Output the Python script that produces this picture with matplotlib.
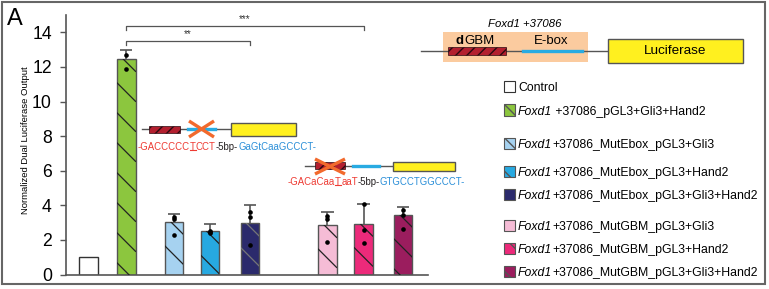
import numpy as np
import matplotlib
matplotlib.use('Agg')
import matplotlib.pyplot as plt
from matplotlib import font_manager
from matplotlib.patches import Rectangle
from matplotlib.lines import Line2D
from matplotlib.transforms import IdentityTransform

# ---- data ----
groups = ['Control',
          'Foxd1 +37086_pGL3+Gli3+Hand2',
          'Foxd1+37086_MutEbox_pGL3+Gli3',
          'Foxd1+37086_MutEbox_pGL3+Hand2',
          'Foxd1+37086_MutEbox_pGL3+Gli3+Hand2',
          'Foxd1+37086_MutGBM_pGL3+Gli3',
          'Foxd1+37086_MutGBM_pGL3+Hand2',
          'Foxd1+37086_MutGBM_pGL3+Gli3+Hand2']
means = [1.0, 12.45, 3.05, 2.5, 2.95, 2.85, 2.93, 3.43]
err_up = [0.0, 0.5, 0.45, 0.4, 1.05, 0.78, 1.17, 0.5]
points = [[], [12.7, 11.85], [3.2, 3.3, 2.3], [2.5, 2.45, 2.38],
          [3.6, 3.35, 1.7], [3.41, 3.18, 1.89], [4.1, 2.56, 1.83],
          [3.74, 3.43, 2.64]]
colors = ['white', '#8cc63e', '#a6d2f0', '#27a9e1', '#2b2a6c',
          '#f5bcd6', '#ec2a7a', '#9b1d5e']
hatched = [False, True, True, True, True, True, True, True]
y_ticks = [0, 2, 4, 6, 8, 10, 12, 14]
# significance brackets: (left bar, right bar, label)
sig = [(1, 4, '**'), (1, 6, '***')]

# bar centres (axis units) and legend rows (pixels from top)
xpos = [0.6, 1.6, 2.85, 3.8, 4.85, 6.9, 7.85, 8.9]
legend_rows = [86, 110, 143, 171, 194, 225, 248, 271]

W, H = 769, 289
try:
    font_manager.findfont('Liberation Sans Narrow', fallback_to_default=False)
    NARROW, k = 'Liberation Sans Narrow', 1.0
except ValueError:
    NARROW, k = 'Liberation Sans', 0.82
REG = 'Liberation Sans'
RED = '#ee3b33'
BLUE = '#2b8fd8'
GREY = '#555555'

fig = plt.figure(figsize=(W / 100, H / 100), dpi=100)


def fx(p):
    return p / W


def fy(p):
    return 1 - p / H


ax = fig.add_axes([fx(65.7), fy(274.5), fx(428 - 65.7), (274.5 - 15) / H])
ax.set_zorder(10)
ax.set_xlim(0, 9.55)
ax.set_ylim(0, 15)

# bars
bars = ax.bar(xpos, means, width=0.48, color=colors,
              edgecolor=['#333333'] + [GREY] * 7, linewidth=1.0, zorder=2)

# sparse diagonal hatching, clipped to each bar
for bar, h, c in zip(bars, hatched, colors):
    if not h:
        continue
    (x0, y0), (x1, y1) = ax.transData.transform(bar.get_bbox().get_points())
    lc = '#777777' if c == '#2b2a6c' else '#222222'
    for cc in np.arange(y1 + 6, y0, -30):
        ln = Line2D([x0, x1], [cc, cc - (x1 - x0)], color=lc, lw=0.9,
                    transform=IdentityTransform(), zorder=3)
        ax.add_artist(ln)
        ln.set_clip_path(bar)

# error bars (upper only)
for x, m, e in zip(xpos, means, err_up):
    if e <= 0:
        continue
    ax.vlines(x, m, m + e, color=GREY, lw=1.2, zorder=1)
    ax.hlines(m + e, x - 0.16, x + 0.16, color=GREY, lw=1.2, zorder=1)

# individual points
for x, p in zip(xpos, points):
    if p:
        ax.scatter([x] * len(p), p, s=11, color='black', zorder=4, linewidths=0)

# significance brackets
for (i, j, lab), yb in zip(sig, [13.48, 14.35]):
    ax.plot([xpos[i], xpos[i], xpos[j], xpos[j]], [yb - 0.22, yb, yb, yb - 0.22],
            color=GREY, lw=0.9, clip_on=False)
    ax.text((xpos[i] + xpos[j]) / 2, yb + 0.15, lab, ha='center', va='bottom',
            fontsize=7, family=REG, color='#333333')

for s in ['top', 'right']:
    ax.spines[s].set_visible(False)
for s in ['left', 'bottom']:
    ax.spines[s].set_color(GREY)
    ax.spines[s].set_linewidth(1.2)
ax.set_xticks([])
ax.set_yticks(y_ticks)
ax.set_yticklabels([str(t) for t in y_ticks], fontsize=15.5 * k, family=NARROW)
ax.tick_params(axis='y', length=4, width=1, color=GREY, pad=6)
ax.patch.set_alpha(0)

fig.text(fx(25), fy(140), 'Normalized Dual Luciferase Output', rotation=90,
         ha='center', va='center', fontsize=8.3 * k, family=NARROW)
fig.text(fx(7), fy(8), 'A', ha='left', va='top', fontsize=17, family=REG)


# ---- helpers ----
underlines = []


def rich_text(x, y, pieces, size, family):
    """pieces: (text, color, style, weight, underline); x, y pixel baseline"""
    prev = None
    for txt, col, sty, wt, ul in pieces:
        if prev is None:
            t = ax.annotate(txt, xy=(x, H - y), xycoords='figure pixels',
                            ha='left', va='baseline', annotation_clip=False)
        else:
            t = ax.annotate(txt, xy=(1, 0), xycoords=prev, ha='left',
                            va='bottom', annotation_clip=False)
        t.set(color=col, fontstyle=sty, fontweight=wt, fontsize=size,
              family=family)
        if ul:
            underlines.append(t)
        prev = t


def box(x0, y0, x1, y1, **kw):
    r = Rectangle((fx(x0), fy(y1)), fx(x1 - x0), (y1 - y0) / H,
                  transform=fig.transFigure, **kw)
    fig.add_artist(r)


def hline(x0, x1, y, **kw):
    fig.add_artist(Line2D([fx(x0), fx(x1)], [fy(y), fy(y)],
                          transform=fig.transFigure, **kw))


def cross(x0, y0, x1, y1):
    for a, b in [((x0, y0), (x1, y1)), ((x0, y1), (x1, y0))]:
        fig.add_artist(Line2D([fx(a[0]), fx(b[0])], [fy(a[1]), fy(b[1])],
                              transform=fig.transFigure, color='#f26a2d',
                              lw=2.4, solid_capstyle='butt', zorder=5))


# ---- construct diagram (top right) ----
rich_text(488, 27, [('Foxd1 +37086', 'black', 'italic', 'normal', False)],
          10 * k, NARROW)
box(443, 32, 588, 62, facecolor='#fbcb9f', edgecolor='none')
hline(421, 608, 51, color=GREY, lw=1)
box(448, 47, 506, 55, facecolor='#b31f2f', edgecolor='#2a0a10', hatch='///',
    lw=0.5, zorder=3)
hline(523, 582, 51, color='#29abe2', lw=2.4, zorder=3)
rich_text(456, 44, [('d', 'black', 'normal', 'bold', False),
                    ('GBM', 'black', 'normal', 'normal', False)], 9.5, REG)
rich_text(534, 44, [('E-box', 'black', 'normal', 'normal', False)], 9.5, REG)
box(608, 39, 743, 63, facecolor='#fff01f', edgecolor=GREY, lw=1, zorder=3)
fig.text(fx(675.5), fy(51), 'Luciferase', ha='center', va='center',
         fontsize=9.7, family=REG, zorder=4)

# ---- mutant E-box diagram ----
hline(142, 231, 129, color=GREY, lw=1)
box(149, 126, 180, 133, facecolor='#b31f2f', edgecolor='#2a0a10', hatch='///',
    lw=0.5, zorder=3)
hline(188, 215, 129, color='#29abe2', lw=2.4, zorder=3)
cross(189, 121, 214, 137)
box(231, 123, 296, 136, facecolor='#fff01f', edgecolor=GREY, lw=1, zorder=3)
rich_text(138, 150, [('-GACCCCC', RED, 'normal', 'normal', False),
                     ('T', RED, 'normal', 'normal', True),
                     ('CCT', RED, 'normal', 'normal', False),
                     ('-5bp-', '#231f20', 'normal', 'normal', False),
                     ('GaGtCaaGCCCT-', BLUE, 'normal', 'normal', False)],
          8.5 * k, NARROW)

# ---- mutant GBM diagram ----
hline(305, 393, 166, color=GREY, lw=1)
box(315, 162, 345, 169, facecolor='#b31f2f', edgecolor='#2a0a10', hatch='///',
    lw=0.5, zorder=3)
cross(315, 159, 345, 174)
hline(353, 379, 166, color='#29abe2', lw=2.4, zorder=3)
box(393, 162, 455, 171, facecolor='#fff01f', edgecolor=GREY, lw=1, zorder=3)
rich_text(288, 185, [('-GACaCaa', RED, 'normal', 'normal', False),
                     ('T', RED, 'normal', 'normal', True),
                     ('aaT', RED, 'normal', 'normal', False),
                     ('-5bp-', '#231f20', 'normal', 'normal', False),
                     ('GTGCCTGGCCCT-', BLUE, 'normal', 'normal', False)],
          8.5 * k, NARROW)

# ---- legend ----
for lab, col, h, yc in zip(groups, colors, hatched, legend_rows):
    box(504, yc - 5.5, 515, yc + 5.5, facecolor=col,
        edgecolor='#333333' if not h else GREY, lw=0.8,
        hatch='\\' if h else None)
    name, rest = lab[:5], lab[5:]
    if lab == 'Control':
        pieces = [(lab, 'black', 'normal', 'normal', False)]
    else:
        pieces = [(name, 'black', 'italic', 'normal', False),
                  (rest, 'black', 'normal', 'normal', False)]
    rich_text(518, yc + 5.3, pieces, 10.8 * k, NARROW)

# figure frame
box(2, 2, 765, 284, facecolor='none', edgecolor='#666666', lw=1.5)

# underline the mutated bases
fig.canvas.draw()
for t in underlines:
    bb = t.get_window_extent()
    y = bb.y0 + 0.2 * bb.height
    fig.add_artist(Line2D([bb.x0 / W, bb.x1 / W], [y / H, y / H],
                          transform=fig.transFigure, color=RED, lw=0.8))

fig.savefig('out.png', dpi=100)
